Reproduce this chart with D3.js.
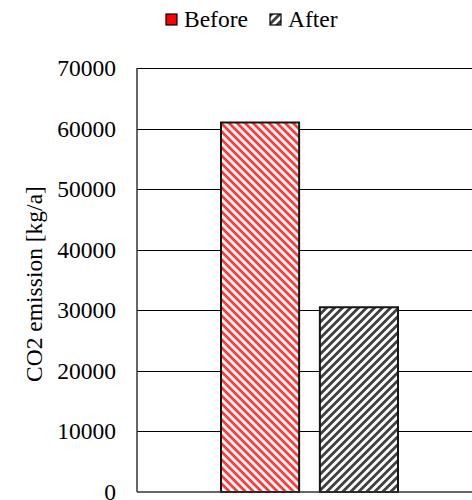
<!DOCTYPE html>
<html>
<head>
<meta charset="utf-8">
<script src="https://cdn.jsdelivr.net/npm/d3@7"></script>
<style>
  html, body { margin: 0; padding: 0; background: #fff; }
  svg { display: block; font-family: "Liberation Serif", "Times New Roman", serif; }
</style>
</head>
<body>
<svg id="chart" width="472" height="500"></svg>
<script>
// Annual CO2 emission before and after the measure
const seriesNames = ["Before", "After"];
const seriesValues = [61000, 30500];
const yTicks = [0, 10000, 20000, 30000, 40000, 50000, 60000, 70000];

const svg = d3.select("#chart");
const margin = { left: 137, top: 68, right: 482, bottom: 492 };
const fontSize = 23.5;

// Diagonal hatch patterns for the two series
const defs = svg.append("defs");
function hatch(id, color, dir) {
  const w = 5.66;
  const p = defs.append("pattern")
    .attr("id", id)
    .attr("patternUnits", "userSpaceOnUse")
    .attr("width", w).attr("height", w)
    .attr("patternTransform", `rotate(${dir})`);
  p.append("rect").attr("width", w).attr("height", w).attr("fill", "#fff");
  p.append("rect").attr("x", 0).attr("y", 0).attr("width", w * 0.5).attr("height", w).attr("fill", color);
}
hatch("hatchBefore", "#ff3a3a", -45);
hatch("hatchAfter", "#404040", 45);

const y = d3.scaleLinear().domain([0, 70000]).range([margin.bottom, margin.top]);
const xGroup = d3.scaleBand().domain(["g"]).range([margin.left, margin.right]);
const x = d3.scaleBand().domain(seriesNames)
  .range([xGroup("g") + 84, xGroup("g") + xGroup.bandwidth() - 84])
  .paddingInner(0.21);

// Horizontal gridlines
svg.append("g")
  .selectAll("line")
  .data(yTicks.filter(d => d > 0))
  .join("line")
  .attr("x1", margin.left).attr("x2", margin.right)
  .attr("y1", d => Math.round(y(d)) + 0.5).attr("y2", d => Math.round(y(d)) + 0.5)
  .attr("stroke", "#000").attr("stroke-width", 1);

// Y axis labels
const yAxis = d3.axisLeft(y).tickValues(yTicks).tickSize(0).tickPadding(21).tickFormat(d3.format("d"));
const gy = svg.append("g").attr("transform", `translate(${margin.left},0)`).call(yAxis);
gy.select(".domain").remove();
gy.selectAll("text")
  .attr("font-size", fontSize)
  .attr("font-family", "Liberation Serif")
  .attr("fill", "#000");

// Bars
const fills = { Before: "url(#hatchBefore)", After: "url(#hatchAfter)" };
svg.append("g")
  .selectAll("rect")
  .data(seriesNames.map((n, i) => ({ name: n, value: seriesValues[i] })))
  .join("rect")
  .attr("x", d => x(d.name))
  .attr("y", d => y(d.value))
  .attr("width", x.bandwidth())
  .attr("height", d => y(0) - y(d.value))
  .attr("fill", d => fills[d.name])
  .attr("stroke", "#151515")
  .attr("stroke-width", 2);

// Axis lines
svg.append("line")
  .attr("x1", margin.left).attr("x2", margin.left)
  .attr("y1", margin.top).attr("y2", margin.bottom)
  .attr("stroke", "#333").attr("stroke-width", 1.5);
svg.append("line")
  .attr("x1", margin.left).attr("x2", margin.right)
  .attr("y1", margin.bottom).attr("y2", margin.bottom)
  .attr("stroke", "#333").attr("stroke-width", 1.5);

// Y axis title
svg.append("text")
  .attr("transform", `translate(42,284) rotate(-90)`)
  .attr("text-anchor", "middle")
  .attr("font-size", fontSize)
  .text("CO2 emission [kg/a]");

// Legend
const legendItems = [
  { name: "Before", x: 166, fill: "#ff0000" },
  { name: "After", x: 270, fill: "url(#hatchAfter)" }
];
const lg = svg.append("g").selectAll("g").data(legendItems).join("g")
  .attr("transform", d => `translate(${d.x},14)`);
lg.append("rect").attr("width", 11).attr("height", 11)
  .attr("fill", d => d.fill).attr("stroke", "#000").attr("stroke-width", 1.2);
lg.append("text").attr("x", 18).attr("y", 12.5)
  .attr("font-size", fontSize).text(d => d.name);
</script>
</body>
</html>
